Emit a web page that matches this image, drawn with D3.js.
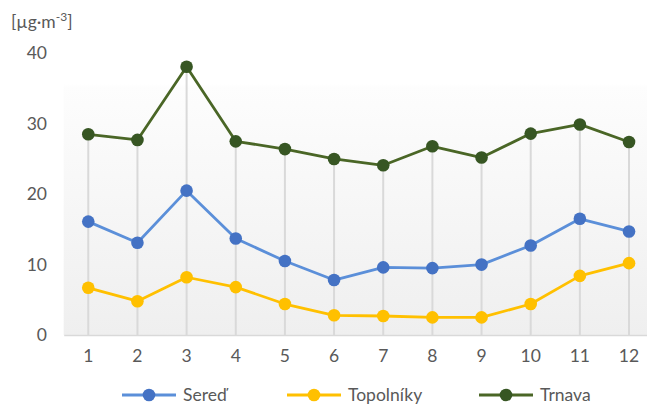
<!DOCTYPE html>
<html>
<head>
<meta charset="utf-8">
<script src="https://cdn.jsdelivr.net/npm/d3@7/dist/d3.min.js"></script>
<style>
  html, body { margin: 0; padding: 0; background: #fff; }
  svg { display: block; }
  text { font-family: Lato, "Open Sans", sans-serif; fill: #595959; }
</style>
</head>
<body>
<svg id="chart" width="647" height="406"></svg>
<script>
// Monthly concentrations per station
const months = [1, 2, 3, 4, 5, 6, 7, 8, 9, 10, 11, 12];
const sered = [16.1, 13.1, 20.5, 13.7, 10.5, 7.8, 9.6, 9.5, 10.0, 12.7, 16.5, 14.7];
const topolniky = [6.7, 4.8, 8.2, 6.8, 4.4, 2.8, 2.7, 2.5, 2.5, 4.4, 8.4, 10.2];
const trnava = [28.5, 27.7, 38.1, 27.5, 26.4, 25.0, 24.1, 26.8, 25.2, 28.6, 29.9, 27.4];
const yTicks = [0, 10, 20, 30, 40];

const seriesNames = ["Sereď", "Topolníky", "Trnava"];
const seriesValues = [sered, topolniky, trnava];
const lineColors = ["#5b8fd9", "#ffc000", "#4a6626"];
const markerColors = ["#4472c4", "#ffc000", "#375623"];

const svg = d3.select("#chart");
const plotLeft = 63.7, plotRight = 653.6, plotTop = 53.3, plotBottom = 335;
const fontSize = "17.5px";

const x = d3.scaleBand().domain(months).range([plotLeft, plotRight]);
const xc = m => x(m) + x.bandwidth() / 2;
const y = d3.scaleLinear().domain([0, 40]).range([plotBottom, plotTop]);

// plot-area background gradient
const defs = svg.append("defs");
const grad = defs.append("linearGradient").attr("id", "bg")
  .attr("x1", 0).attr("y1", 0).attr("x2", 0).attr("y2", 1);
grad.append("stop").attr("offset", "0%").attr("stop-color", "#ffffff");
grad.append("stop").attr("offset", "11%").attr("stop-color", "#ffffff");
grad.append("stop").attr("offset", "12%").attr("stop-color", "#fdfdfd");
grad.append("stop").attr("offset", "100%").attr("stop-color", "#efefef");
svg.append("rect")
  .attr("x", plotLeft).attr("y", plotTop)
  .attr("width", plotRight - plotLeft).attr("height", plotBottom - plotTop)
  .attr("fill", "url(#bg)");

// drop lines from the highest series to the axis
svg.append("g").selectAll("line")
  .data(months)
  .join("line")
  .attr("x1", (m) => xc(m)).attr("x2", (m) => xc(m))
  .attr("y1", (m, i) => y(trnava[i])).attr("y2", plotBottom)
  .attr("stroke", "#d9d9d9").attr("stroke-width", 2);

// category axis
const xAxis = svg.append("g")
  .attr("transform", `translate(0,${plotBottom})`)
  .call(d3.axisBottom(x).tickSize(0).tickPadding(15));
xAxis.select(".domain").attr("stroke", "#d9d9d9").attr("stroke-width", 1.5);
xAxis.selectAll("text").style("font-size", fontSize).attr("fill", "#595959")
  .style("font-family", "Lato, 'Open Sans', sans-serif");

// value axis labels
const yAxis = svg.append("g")
  .attr("transform", `translate(47,0)`)
  .call(d3.axisLeft(y).tickValues(yTicks).tickSize(0).tickPadding(0));
yAxis.select(".domain").remove();
yAxis.selectAll("text").style("font-size", fontSize).attr("fill", "#595959")
  .style("font-family", "Lato, 'Open Sans', sans-serif");

// unit label
const unit = svg.append("text").attr("x", 11).attr("y", 28)
  .style("font-size", fontSize);
unit.append("tspan").text("[µg·m");
unit.append("tspan").text("-3").attr("dy", -7).style("font-size", "12px");
unit.append("tspan").text("]").attr("dy", 7);

// series lines and markers
const line = d3.line().x((d, i) => xc(months[i])).y(d => y(d));
seriesValues.forEach((vals, s) => {
  svg.append("path").datum(vals)
    .attr("d", line)
    .attr("fill", "none")
    .attr("stroke", lineColors[s])
    .attr("stroke-width", 2.8)
    .attr("stroke-linejoin", "round");
  svg.append("g").selectAll("circle")
    .data(vals)
    .join("circle")
    .attr("cx", (d, i) => xc(months[i]))
    .attr("cy", d => y(d))
    .attr("r", 6.3)
    .attr("fill", markerColors[s]);
});

// legend
const legendX = [122, 287, 479];
const legend = svg.append("g");
seriesNames.forEach((name, s) => {
  const g = legend.append("g").attr("transform", `translate(${legendX[s]},395)`);
  g.append("line").attr("x1", 0).attr("x2", 54).attr("y1", 0).attr("y2", 0)
    .attr("stroke", lineColors[s]).attr("stroke-width", 2.8);
  g.append("circle").attr("cx", 27).attr("cy", 0).attr("r", 6.3)
    .attr("fill", markerColors[s]);
  g.append("text").attr("x", 61).attr("y", 0).attr("dy", "0.35em")
    .style("font-size", fontSize).text(name);
});
</script>
</body>
</html>
